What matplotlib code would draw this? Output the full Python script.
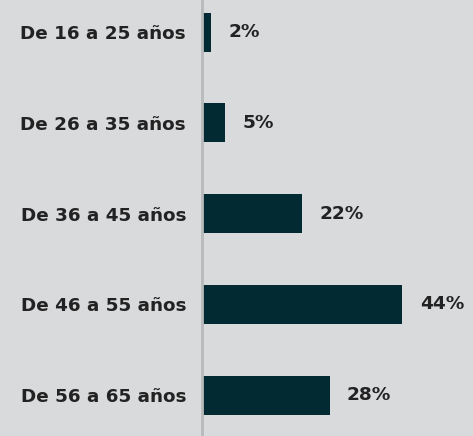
import matplotlib.pyplot as plt

# data
categories = ['De 16 a 25 años', 'De 26 a 35 años', 'De 36 a 45 años',
              'De 46 a 55 años', 'De 56 a 65 años']
values = [2, 5, 22, 44, 28]
labels = ['2%', '5%', '22%', '44%', '28%']

bg = '#d9dadc'
bar_color = '#022a33'
text_color = '#222222'

fig = plt.figure(figsize=(4.73, 4.36), dpi=100, facecolor=bg)
ax = fig.add_axes([202 / 473, 0, 1 - 202 / 473, 1], facecolor=bg)

pos = list(range(len(categories)))
ax.barh(pos, values, height=0.43, color=bar_color)

for p, v, lab in zip(pos, values, labels):
    ax.text(v + 3.8, p, lab, va='center', ha='left', fontsize=13.3,
            fontweight='bold', color=text_color)

ax.set_xlim(0, 59.5)
ax.set_ylim(4.45, -0.353)

ax.set_yticks(pos)
ax.set_yticklabels(categories, fontsize=13.2, fontweight='bold', color=text_color)
ax.tick_params(axis='y', length=0, pad=11.5)
ax.set_xticks([])

for side in ['top', 'right', 'bottom']:
    ax.spines[side].set_visible(False)
ax.spines['left'].set_color('#b8b9bb')
ax.spines['left'].set_linewidth(2)

fig.savefig('out.png', dpi=100, facecolor=bg)
